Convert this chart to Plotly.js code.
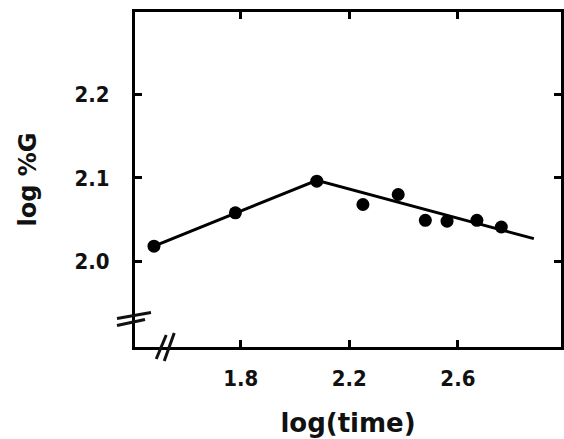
<!DOCTYPE html>
<html>
<head>
<meta charset="utf-8">
<script src="https://cdn.plot.ly/plotly-3.0.1.min.js"></script>
<style>html,body{margin:0;padding:0;background:#fff;}#chart{width:564px;height:439px;}</style>
</head>
<body>
<div id="chart"></div>
<script>
// Data
const logTime = [1.48, 1.78, 2.08, 2.25, 2.38, 2.48, 2.56, 2.67, 2.76];
const logG    = [2.018, 2.058, 2.096, 2.068, 2.080, 2.049, 2.048, 2.049, 2.041];
const fitX = [1.48, 2.08, 2.88];
const fitY = [2.018, 2.097, 2.027];
const xTicks = [1.8, 2.2, 2.6];
const xTickText = ['1.8', '2.2', '2.6'];
const yTicks = [2.0, 2.1, 2.2];
const yTickText = ['2.0', '2.1', '2.2'];

const tickFont = {family: 'DejaVu Sans Condensed, Liberation Sans, sans-serif', size: 22, color: '#111', weight: 'bold'};
const yTitleFont = {family: 'DejaVu Sans, sans-serif', size: 24, color: '#111', weight: 'bold'};
const xTitleFont = {family: 'DejaVu Sans, sans-serif', size: 26, color: '#111', weight: 'bold'};

const traces = [
  {x: fitX, y: fitY, mode: 'lines', type: 'scatter',
   line: {color: '#000', width: 3}, hoverinfo: 'skip'},
  {x: logTime, y: logG, mode: 'markers', type: 'scatter',
   marker: {color: '#000', size: 13}}
];

function brk(xa, ya, dx0, dy0, dx1, dy1) {
  return {type: 'line', xref: 'paper', yref: 'paper', xsizemode: 'pixel', ysizemode: 'pixel',
    xanchor: xa, yanchor: ya, x0: dx0, y0: dy0, x1: dx1, y1: dy1,
    line: {color: '#111', width: 3}};
}

const layout = {
  width: 564, height: 439,
  margin: {l: 135, r: 3, t: 12, b: 92},
  paper_bgcolor: '#fff', plot_bgcolor: '#fff',
  showlegend: false,
  xaxis: {
    range: [1.41, 2.98], tickvals: xTicks, ticktext: xTickText,
    showgrid: false, zeroline: false,
    showline: true, linecolor: '#000', linewidth: 3, mirror: 'ticks',
    ticks: 'inside', ticklen: 7, tickwidth: 3, tickcolor: '#000',
    tickfont: tickFont, ticklabelstandoff: 10,
    title: {text: 'log(time)', font: xTitleFont, standoff: 24}
  },
  yaxis: {
    range: [1.897, 2.299], tickvals: yTicks, ticktext: yTickText,
    showgrid: false, zeroline: false,
    showline: true, linecolor: '#000', linewidth: 3, mirror: 'ticks',
    ticks: 'inside', ticklen: 7, tickwidth: 3, tickcolor: '#000',
    tickfont: tickFont, ticklabelstandoff: 18,
    title: {text: 'log %G', font: yTitleFont, standoff: 32}
  },
  shapes: [
    // axis break on the y axis
    brk(0, 0.085, -18, 0, 16, 6),
    brk(0, 0.085, -18, -7, 10, -1),
    // axis break on the x axis
    brk(0.078, 0, -4, -14, 6, 14),
    brk(0.078, 0, -12, -12, -2, 12)
  ]
};

Plotly.newPlot('chart', traces, layout, {displayModeBar: false, staticPlot: true});
</script>
</body>
</html>
